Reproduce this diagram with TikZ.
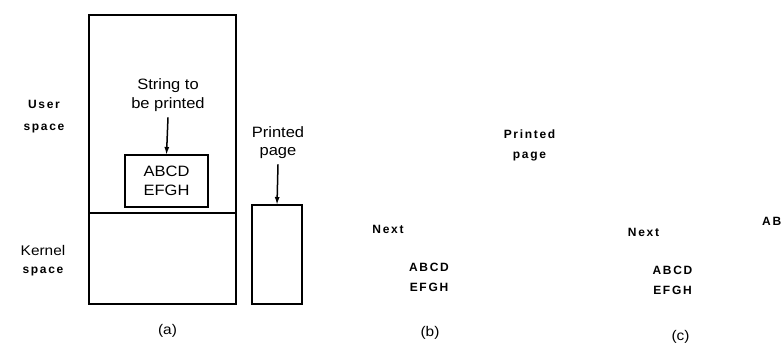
\documentclass[tikz,border=0pt]{standalone}
\usepackage{fontspec}
\usepackage{tikz}
\usetikzlibrary{arrows.meta,positioning}
\setmainfont{Liberation Sans}
\newfontfamily\scanfont[FakeStretch=1.1]{Liberation Sans}
\newfontfamily\spacedfont[LetterSpace=14]{Liberation Sans Bold}
\newcommand{\spaced}[1]{{\spacedfont\fontsize{12}{20}\selectfont #1}}
\tikzset{
  memframe/.style={
    draw,
    line width=1.5pt,
    inner sep=0pt,
    outer sep=0pt
  },
  plainlabel/.style={
    font=\scanfont\fontsize{15}{18.5}\selectfont,
    align=center,
    inner sep=0pt,
    anchor=base
  },
  spacedlabel/.style={
    font=\spacedfont\fontsize{12}{20}\selectfont,
    align=center,
    inner sep=0pt,
    anchor=base
  },
  downarrow/.style={-{Latex[length=8pt,width=5pt]}, line width=1.5pt}
}
\begin{document}
\begin{tikzpicture}[x=1pt,y=-1pt]
\useasboundingbox (0,0) rectangle (781,343);

% (a) user and kernel memory
\node[memframe, anchor=north west, minimum width=147pt, minimum height=198pt] (user) at (89,15) {};
\node[memframe, anchor=north west, minimum width=147pt, minimum height=91pt] (kernel) at (89,213) {};
\node[memframe, font=\scanfont\fontsize{15}{18.5}\selectfont, align=center,
      minimum width=83pt, minimum height=52pt] (buffer) at (166.5,181) {ABCD\\EFGH};
\node[memframe, anchor=north west, minimum width=50pt, minimum height=99pt] (page) at (252,205) {};

% base of a two-line label = baseline of its last line
\node[spacedlabel, font=\spacedfont\fontsize{12}{22}\selectfont] (userlbl) at (44,130) {User\\space};
\node[plainlabel, font=\scanfont\fontsize{14}{18}\selectfont] (kernellbl) at (43,273) {Kernel\\\spaced{space}};
\node[plainlabel] (stringlbl) at (168,108) {String to\\be printed};
\node[plainlabel, font=\scanfont\fontsize{15}{18}\selectfont] (printlbl) at (278,155) {Printed\\page};

\draw[downarrow] ([yshift=-6pt]stringlbl.south) -- (buffer.north);
\draw[downarrow] ([yshift=-6pt]printlbl.south) -- (page.north);

\node[plainlabel, font=\scanfont\fontsize{14}{18}\selectfont] (capa) at (167.5,334) {(a)};

% (b)
\node[spacedlabel] (printlblb) at (529.5,158) {Printed\\page};
\node[spacedlabel] (nextb) at (388,233) {Next};
\node[spacedlabel, font=\spacedfont\fontsize{12}{19.5}\selectfont] (textb) at (429,291) {ABCD\\EFGH};
\node[plainlabel, font=\scanfont\fontsize{14}{18}\selectfont] (capb) at (430,336) {(b)};

% (c)
\node[spacedlabel] (nextc) at (643.5,236) {Next};
\node[spacedlabel, font=\spacedfont\fontsize{12}{19.5}\selectfont] (textc) at (672.5,294) {ABCD\\EFGH};
\node[plainlabel, font=\scanfont\fontsize{14}{18}\selectfont] (capc) at (680.5,340) {(c)};
\node[spacedlabel, anchor=base west] (textd) at (762,225) {AB};
\end{tikzpicture}
\end{document}
